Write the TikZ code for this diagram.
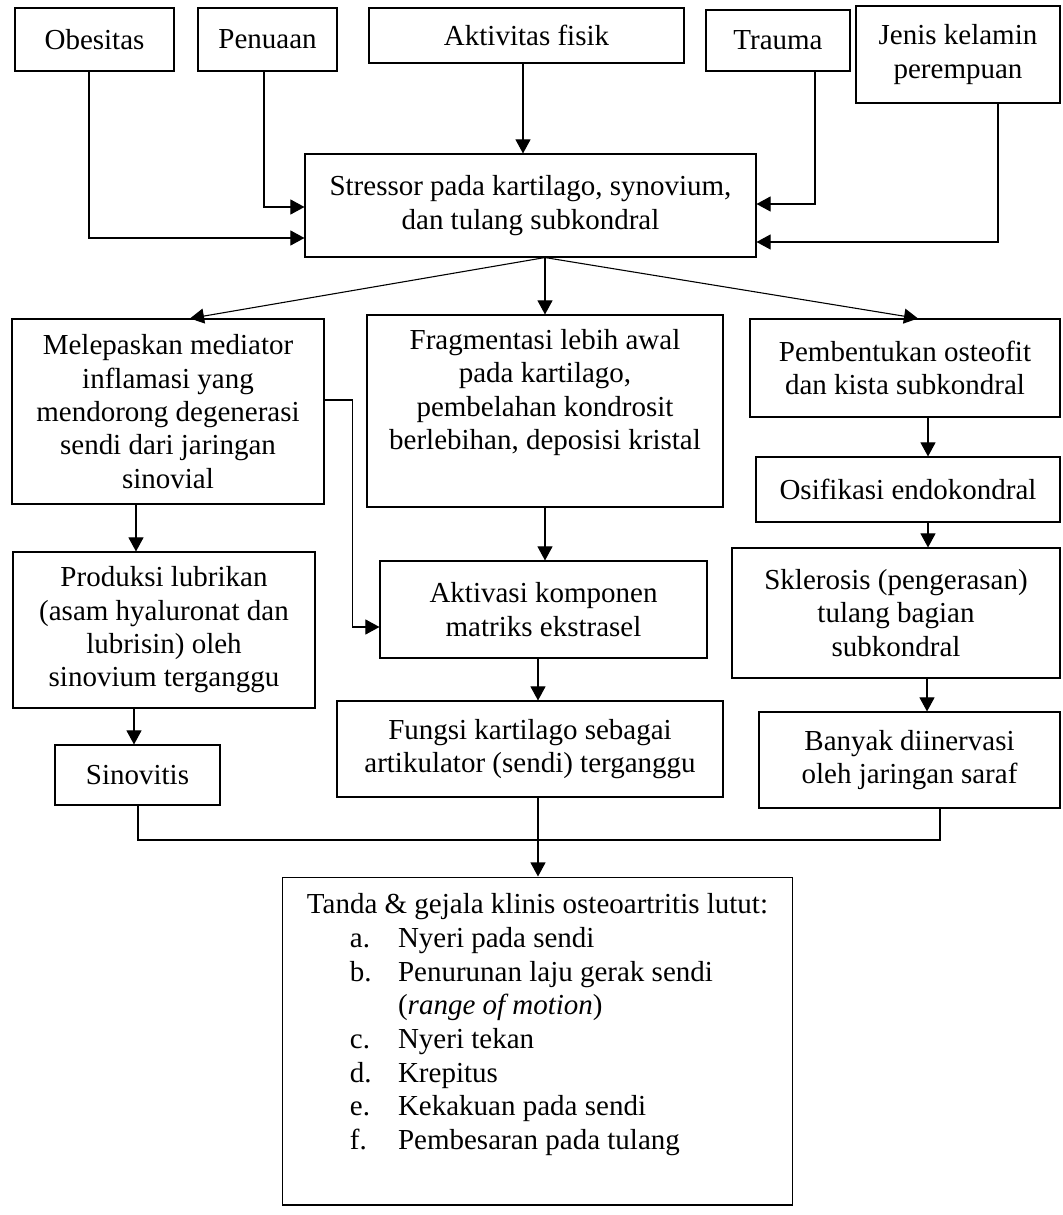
\documentclass[tikz,border=0pt]{standalone}
\usepackage{fontspec}
\setmainfont{Liberation Serif}
\usetikzlibrary{shapes,arrows.meta,calc}
\tikzstyle{block} = [rectangle, draw, line width=0.45pt, align=center,
    inner sep=0pt, font=\fontsize{12}{13.8}\selectfont]
\tikzstyle{line} = [draw, line width=0.45pt, -{Triangle[length=5.8pt,width=6.2pt]}]
\tikzset{boxsize/.style 2 args={minimum width=#1*0.4138pt, minimum height=#2*0.4138pt}}

\begin{document}
\begin{tikzpicture}[x=0.4138pt, y=-0.4138pt]
  \useasboundingbox (0,0) rectangle (1062,1215);
  % Place nodes
  \node [block, boxsize={159}{63}] (obes) at (94.5,39.5) {Obesitas};
  \node [block, boxsize={139}{63}] (penu) at (267.5,39.5) {Penuaan};
  \node [block, boxsize={315}{55}] (akti) at (526.5,35.5) {Aktivitas fisik};
  \node [block, boxsize={144}{61}] (trau) at (778,40.5) {Trauma};
  \node [block, boxsize={204}{97}] (jeni) at (958,54.5) {Jenis kelamin\\perempuan};

  \node [block, boxsize={451}{103}] (stre) at (530.5,205.5)
        {Stressor pada kartilago, synovium,\\dan tulang subkondral};

  \node [block, boxsize={312}{185}] (mele) at (168,411.5)
        {Melepaskan mediator\\inflamasi yang\\mendorong degenerasi\\sendi dari jaringan\\sinovial};
  \node [block, boxsize={356}{192}] (frag) at (545,411)
        {Fragmentasi lebih awal\\pada kartilago,\\pembelahan kondrosit\\berlebihan, deposisi kristal\\\strut};
  \node [block, boxsize={310}{98}] (pemb) at (905,368)
        {Pembentukan osteofit\\dan kista subkondral};
  \node [block, boxsize={304}{65}] (osif) at (908,489.5) {Osifikasi endokondral};

  \node [block, boxsize={302}{156}] (prod) at (164,630)
        {Produksi lubrikan\\(asam hyaluronat dan\\lubrisin) oleh\\sinovium terganggu};
  \node [block, boxsize={327}{97}] (matr) at (543.5,609.5)
        {Aktivasi komponen\\matriks ekstrasel};
  \node [block, boxsize={328}{130}] (skle) at (896,613)
        {Sklerosis (pengerasan)\\tulang bagian\\subkondral};

  \node [block, boxsize={165}{60}] (sino) at (137.5,775) {Sinovitis};
  \node [block, boxsize={386}{96}] (fung) at (530,749)
        {Fungsi kartilago sebagai\\artikulator (sendi) terganggu};
  \node [block, boxsize={301}{96}] (bany) at (909.5,760)
        {Banyak diinervasi\\oleh jaringan saraf};

  \node [block, align=left] (tand) at (537.5,1041)
        {\parbox[c][135.7pt][t]{211.4pt}{\fontsize{12}{13.95}\selectfont
         \vspace*{6.8pt}%
         \hspace*{10.3pt}Tanda \& gejala klinis osteoartritis lutut:\\
         \hspace*{28.1pt}\makebox[19.9pt][l]{a.}Nyeri pada sendi\\
         \hspace*{28.1pt}\makebox[19.9pt][l]{b.}Penurunan laju gerak sendi\\
         \hspace*{48pt}(\textit{range of motion})\\
         \hspace*{28.1pt}\makebox[19.9pt][l]{c.}Nyeri tekan\\
         \hspace*{28.1pt}\makebox[19.9pt][l]{d.}Krepitus\\
         \hspace*{28.1pt}\makebox[19.9pt][l]{e.}Kekakuan pada sendi\\
         \hspace*{28.1pt}\makebox[19.9pt][l]{f.}Pembesaran pada tulang}};

  \coordinate (join) at (538,840);

  % Draw edges
  \path [line] (obes.south -| 89,0) |- (stre.west |- 0,238);
  \path [line] (penu.south -| 264,0) |- (stre.west |- 0,207);
  \path [line] (akti.south -| 523,0) -- (stre.north -| 523,0);
  \path [line] (trau.south -| 815,0) |- (stre.east |- 0,204);
  \path [line] (jeni.south -| 998,0) |- (stre.east |- 0,242);

  \path [line] (stre.south -| 545,0) -- (mele.north -| 190,0);
  \path [line] (stre.south -| 545,0) -- (frag.north);
  \path [line] (stre.south -| 545,0) -- (pemb.north -| 918,0);

  \path [line] (mele.south -| 136,0) -- (prod.north -| 136,0);
  \path [line] (mele.east |- 0,400) -- ++(28,0) |- (matr.west |- 0,627);
  \path [line] (frag.south) -- (matr.north -| 545,0);
  \path [line] (pemb.south -| 928,0) -- (osif.north -| 928,0);
  \path [line] (osif.south -| 928,0) -- (skle.north -| 928,0);

  \path [line] (prod.south -| 134,0) -- (sino.north -| 134,0);
  \path [line] (matr.south -| 538,0) -- (fung.north -| 538,0);
  \path [line] (skle.south -| 927,0) -- (bany.north -| 927,0);

  \draw [line width=0.45pt] (sino.south -| 138,0) |- (join);
  \draw [line width=0.45pt] (bany.south -| 940,0) |- (join);
  \path [line] (fung.south -| 538,0) -- (tand.north -| 538,0);
\end{tikzpicture}
\end{document}
